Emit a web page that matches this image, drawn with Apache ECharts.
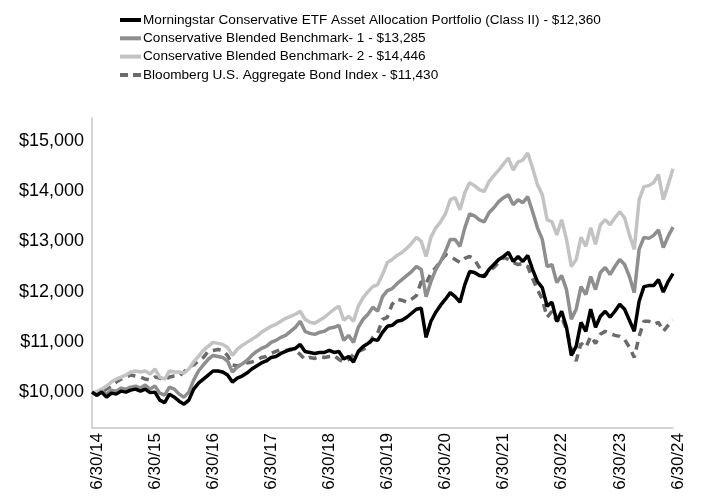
<!DOCTYPE html>
<html>
<head>
<meta charset="utf-8">
<title>Growth of $10,000</title>
<script src="https://cdn.jsdelivr.net/npm/echarts@6/dist/echarts.min.js"></script>
<style>
  html, body { margin: 0; padding: 0; background: #fff; }
  #myChart { width: 701px; height: 499px; }
</style>
</head>
<body>
<div id="myChart"></div>
<script>
// 月末数据 6/30/14 - 6/30/24
var tickLabels = ['6/30/14','6/30/15','6/30/16','6/30/17','6/30/18','6/30/19','6/30/20','6/30/21','6/30/22','6/30/23','6/30/24'];
var yTicks = [10000, 11000, 12000, 13000, 14000, 15000];

var seriesNames = [
  'Morningstar Conservative ETF Asset Allocation Portfolio (Class II) - $12,360',
  'Conservative Blended Benchmark- 1 - $13,285',
  'Conservative Blended Benchmark- 2 - $14,446',
  'Bloomberg U.S. Aggregate Bond Index - $11,430'
];

var portfolio = [
  10000, 9940, 10000, 9900, 9980, 9960, 10020, 10000, 10040, 10060, 10020, 10060,
  9990, 10000, 9840, 9790, 9960, 9900, 9820, 9760, 9840, 10060, 10180, 10260,
  10340, 10420, 10420, 10400, 10340, 10200, 10280, 10320, 10380, 10460, 10520, 10580,
  10620, 10690, 10710, 10770, 10810, 10850, 10870, 10950, 10810, 10790, 10770, 10790,
  10790, 10830, 10790, 10810, 10660, 10710, 10600, 10810, 10910, 10970, 11050, 11030,
  11190, 11310, 11330, 11410, 11430, 11490, 11570, 11650, 11670, 11090, 11410, 11590,
  11730, 11850, 11980, 11900, 11790, 12140, 12400, 12380, 12320, 12300, 12440, 12540,
  12640, 12700, 12780, 12600, 12700, 12600, 12720, 12440, 12200, 12080, 11710, 11790,
  11410, 11610, 11290, 10730, 10910, 11390, 11210, 11650, 11290, 11510, 11610, 11490,
  11610, 11750, 11650, 11430, 11210, 11810, 12100, 12120, 12120, 12240, 11990, 12200,
  12360
];

var bench1 = [
  10000, 9940, 10020, 9960, 10040, 10020, 10080, 10060, 10100, 10120, 10080, 10140,
  10060, 10120, 9980, 9940, 10100, 10060, 9960, 9900, 10000, 10240, 10420, 10540,
  10650, 10730, 10710, 10690, 10620, 10400, 10500, 10560, 10630, 10730, 10810, 10870,
  10910, 10990, 11030, 11090, 11130, 11210, 11290, 11410, 11210, 11170, 11150, 11190,
  11210, 11270, 11290, 11330, 11030, 11130, 10990, 11290, 11450, 11550, 11690, 11610,
  11900, 12020, 12060, 12160, 12240, 12320, 12400, 12500, 12440, 11900, 12200, 12440,
  12600, 12800, 13040, 13040, 12900, 13270, 13550, 13510, 13430, 13390, 13570, 13670,
  13790, 13870, 13930, 13730, 13830, 13770, 13890, 13590, 13270, 13040, 12500, 12540,
  12180, 12320, 12040, 11450, 11650, 12100, 11940, 12300, 12040, 12380, 12480, 12340,
  12500, 12640, 12540, 12300, 11980, 12840, 13080, 13060, 13120, 13230, 12880, 13100,
  13285
];

var bench2 = [
  10000, 10010, 10060, 10120, 10200, 10260, 10300, 10340, 10400, 10420, 10400, 10420,
  10360, 10460, 10300, 10260, 10420, 10400, 10400, 10380, 10460, 10600, 10710, 10830,
  10910, 10990, 10970, 10950, 10890, 10730, 10850, 10930, 10990, 11050, 11110, 11190,
  11250, 11310, 11350, 11410, 11470, 11510, 11550, 11610, 11450, 11390, 11370, 11430,
  11490, 11570, 11650, 11710, 11430, 11510, 11410, 11710, 11880, 12000, 12100, 12140,
  12340, 12580, 12640, 12720, 12780, 12860, 12960, 13080, 13000, 12700, 13080, 13270,
  13390, 13550, 13830, 13870, 13630, 13970, 14170, 14110, 14030, 13990, 14190, 14310,
  14420, 14540, 14660, 14420, 14580, 14620, 14760, 14460, 14130, 13930, 13430, 13390,
  13130, 13430, 13040, 12500, 12640, 13080, 12900, 13270, 12940, 13330, 13430, 13330,
  13470, 13590, 13470, 13130, 12840, 13830, 14090, 14110, 14170, 14330, 13830, 14130,
  14446
];

var bondIndex = [
  10000, 9940, 10000, 10060, 10120, 10200, 10260, 10300, 10340, 10320, 10300, 10260,
  10240, 10300, 10280, 10240, 10300, 10320, 10320, 10400, 10500, 10540, 10620, 10690,
  10810, 10830, 10850, 10830, 10730, 10540, 10520, 10540, 10580, 10600, 10630, 10690,
  10710, 10770, 10810, 10850, 10830, 10850, 10830, 10750, 10650, 10690, 10670, 10710,
  10690, 10710, 10730, 10650, 10600, 10650, 10750, 10810, 10850, 10910, 11090, 11170,
  11450, 11490, 11750, 11850, 11830, 11790, 11850, 11920, 12200, 12160, 12360, 12480,
  12600, 12740, 12700, 12640, 12580, 12660, 12700, 12640, 12480, 12300, 12400, 12480,
  12580, 12680, 12640, 12580, 12540, 12560, 12500, 12260, 12040, 11850, 11490, 11610,
  11410, 11490, 11250, 10850, 10620, 10970, 10890, 11110, 10970, 11150, 11210, 11170,
  11130, 11110, 11050, 10890, 10690, 11110, 11410, 11410, 11350, 11390, 11210, 11330,
  11430
];

// 月末日期 (类目轴)
var months = [];
for (var i = 0; i < portfolio.length; i++) {
  var m = (5 + i) % 12;          // 0 = Jan
  var y = 14 + Math.floor((5 + i) / 12);
  var last = new Date(2000 + y, m + 1, 0).getDate();
  months.push((m + 1) + '/' + last + '/' + (y < 10 ? '0' + y : y));
}

var font = '"Liberation Sans", Arial, Helvetica, sans-serif';
var dashIcon = 'path://M0,0h8v4h-8z M13,0h8v4h-8z';

var myChart = echarts.init(document.getElementById('myChart'));
myChart.setOption({
  animation: false,
  textStyle: { fontFamily: font },
  legend: {
    orient: 'vertical',
    left: 115,
    top: 8,
    itemWidth: 21,
    itemHeight: 4,
    itemGap: 4.3,
    selectedMode: false,
    textStyle: { fontSize: 13.6, lineHeight: 14, color: '#000', fontFamily: font, padding: [0, 0, 0, -3] },
    data: [
      { name: seriesNames[0], icon: 'rect' },
      { name: seriesNames[1], icon: 'rect' },
      { name: seriesNames[2], icon: 'rect' },
      { name: seriesNames[3], icon: dashIcon }
    ]
  },
  grid: { left: 92, right: 28, top: 118, bottom: 71 },
  xAxis: {
    type: 'category',
    boundaryGap: false,
    data: months,
    axisLine: { lineStyle: { color: '#c6c6c6', width: 1.5 } },
    axisTick: { show: false },
    axisLabel: {
      rotate: 90,
      interval: 11,
      margin: 5,
      fontSize: 17,
      lineHeight: 10,
      verticalAlign: 'top',
      color: '#000',
      fontFamily: font,
      formatter: function (v, idx) { return tickLabels[idx / 12]; }
    },
    splitLine: { show: false }
  },
  yAxis: {
    type: 'value',
    min: 9286,
    max: 15456,
    axisLine: { show: true, lineStyle: { color: '#c6c6c6', width: 1.5 } },
    axisTick: { show: false },
    splitLine: { show: false },
    axisLabel: {
      customValues: yTicks,
      margin: 8,
      fontSize: 18,
      color: '#000',
      fontFamily: font,
      formatter: function (v) { return '$' + v.toLocaleString('en-US'); }
    }
  },
  series: [
    {
      name: seriesNames[3], type: 'line', data: bondIndex, symbol: 'none', z: 2,
      lineStyle: { color: '#6b6b6b', width: 3.5, type: [8, 6] },
      itemStyle: { color: '#6b6b6b' }
    },
    {
      name: seriesNames[2], type: 'line', data: bench2, symbol: 'none', z: 3,
      lineStyle: { color: '#c3c3c3', width: 3.5 },
      itemStyle: { color: '#c3c3c3' }
    },
    {
      name: seriesNames[1], type: 'line', data: bench1, symbol: 'none', z: 4,
      lineStyle: { color: '#8e8e8e', width: 3.5 },
      itemStyle: { color: '#8e8e8e' }
    },
    {
      name: seriesNames[0], type: 'line', data: portfolio, symbol: 'none', z: 5,
      lineStyle: { color: '#000', width: 3.5 },
      itemStyle: { color: '#000' }
    }
  ]
});
</script>
</body>
</html>
